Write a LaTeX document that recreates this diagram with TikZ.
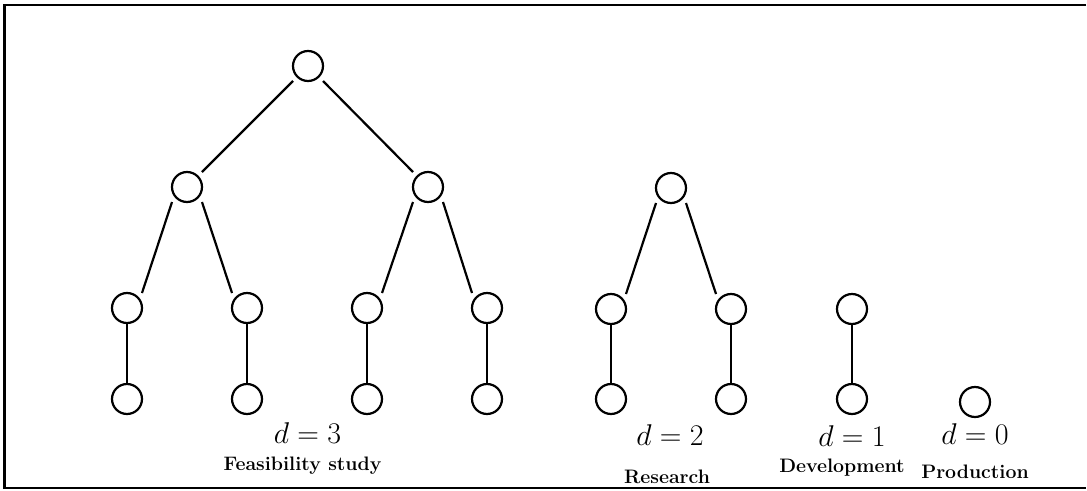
\RequirePackage{fix-cm}
\documentclass[tikz,border=0pt]{standalone}
\begin{document}
\begin{tikzpicture}[x=1pt,y=-1pt,
  ln/.style={line width=2.2pt},
  vtx/.style={rectangle,minimum size=30pt,inner sep=0pt,outer sep=0pt},
  dlab/.style={anchor=base,inner sep=0pt,font=\fontsize{30}{34}\selectfont},
  nlab/.style={anchor=base,inner sep=0pt,font=\fontsize{19.5}{23}\selectfont\bfseries}]
\useasboundingbox (0,0) rectangle (1087,490);
\draw[ln] (1086,5) -- (4.5,5) -- (4.5,488) -- (1086,488);
% feasibility tree
\node[vtx] (r) at (308,66) {};
\node[vtx] (a1) at (187,187) {};
\node[vtx] (a2) at (428,187) {};
\node[vtx] (b1) at (127,308) {};
\node[vtx] (b2) at (247,308) {};
\node[vtx] (b3) at (367,308) {};
\node[vtx] (b4) at (487,308) {};
\node[vtx] (c1) at (127,399) {};
\node[vtx] (c2) at (247,399) {};
\node[vtx] (c3) at (367,399) {};
\node[vtx] (c4) at (487,399) {};
% research tree
\node[vtx] (s0) at (671,188) {};
\node[vtx] (s1) at (611,309) {};
\node[vtx] (s2) at (731,309) {};
\node[vtx] (s3) at (611,399) {};
\node[vtx] (s4) at (731,399) {};
% development
\node[vtx] (d1) at (852,309) {};
\node[vtx] (d2) at (852,399) {};
% production
\node[vtx] (p) at (975,402) {};
\foreach \n in {r,a1,a2,b1,b2,b3,b4,c1,c2,c3,c4,s0,s1,s2,s3,s4,d1,d2,p}
  \draw[ln] (\n.center) circle[radius=15pt];
\draw[ln] (r.south west) -- (a1.north east);
\draw[ln] (r.south east) -- (a2.north west);
\draw[ln] (a1.south west) -- (b1.north east);
\draw[ln] (a1.south east) -- (b2.north west);
\draw[ln] (a2.south west) -- (b3.north east);
\draw[ln] (a2.south east) -- (b4.north west);
\draw[ln] (b1.south) -- (c1.north);
\draw[ln] (b2.south) -- (c2.north);
\draw[ln] (b3.south) -- (c3.north);
\draw[ln] (b4.south) -- (c4.north);
\draw[ln] (s0.south west) -- (s1.north east);
\draw[ln] (s0.south east) -- (s2.north west);
\draw[ln] (s1.south) -- (s3.north);
\draw[ln] (s2.south) -- (s4.north);
\draw[ln] (d1.south) -- (d2.north);
% labels
\node[dlab] (l3) at (307.5,443) {$d=3$};
\node[nlab] (n3) at (302.5,470) {Feasibility study};
\node[dlab] (l2) at (670,445) {$d=2$};
\node[nlab] (n2) at (667,483) {Research};
\node[dlab] (l1) at (852,446) {$d=1$};
\node[nlab] (n1) at (842,472) {Development};
\node[dlab] (l0) at (975,444) {$d=0$};
\node[nlab] (n0) at (975,478) {Production};
\end{tikzpicture}
\end{document}
